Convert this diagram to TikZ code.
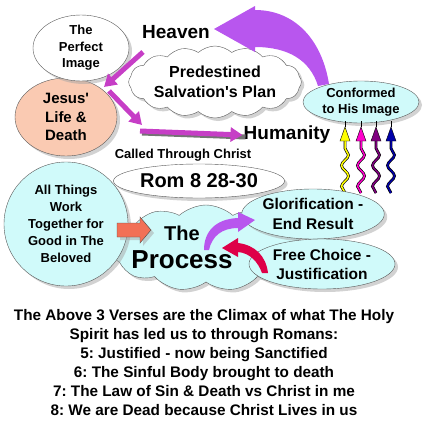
\documentclass[tikz,border=0pt]{standalone}
\usepackage{fontspec}
\setmainfont{Liberation Sans}
\usetikzlibrary{shapes.geometric,shapes.symbols,shadows,arrows.meta,decorations.pathmorphing}
\definecolor{peach}{RGB}{250,202,178}
\definecolor{paleCyan}{RGB}{208,250,250}
\definecolor{plumArrow}{RGB}{198,62,198}
\definecolor{heavenViolet}{RGB}{184,86,238}
\definecolor{choiceRed}{RGB}{222,0,72}
\definecolor{coralArrow}{RGB}{242,112,86}
\definecolor{waveYellow}{RGB}{255,255,0}
\definecolor{waveMagenta}{RGB}{255,0,204}
\definecolor{wavePurple}{RGB}{128,0,128}
\definecolor{waveBlue}{RGB}{0,0,170}
\newcommand{\txtsize}[2]{\fontsize{#1}{#2}\selectfont\bfseries}
\frenchspacing
\begin{document}
\begin{tikzpicture}
[x=1pt,y=-1pt,
  shadowDecorate/.style={drop shadow={shadow xshift=3pt,shadow yshift=-3pt,fill=black!35}},
  ovalDecorate/.style={shape=ellipse,draw=black!65,thin,inner sep=0pt,align=center,shadowDecorate},
  cloudDecorate/.style={shape=cloud,cloud ignores aspect,cloud puff arc=85,draw=black!65,thin,
    inner sep=0pt,align=center,shadowDecorate},
  labelDecorate/.style={inner sep=0pt,align=center},
  jesusArrow/.style={plumArrow,line width=5pt,-{Triangle[length=12pt,width=14pt]}},
  waveDecorate/.style={decorate,decoration={snake,segment length=21pt,amplitude=3.5pt}}]
\useasboundingbox (0,0) rectangle (434,434);
%% upper ovals and clouds
\node (jesus) at (66,117) [ovalDecorate,fill=peach,minimum width=102pt,minimum height=78pt,
  font=\txtsize{15}{18.5}] {Jesus\textquotesingle\\Life \&\\Death};
\node (perfect) at (81,48) [ovalDecorate,fill=white,minimum width=96pt,minimum height=66pt,
  font=\txtsize{13}{16.5}] {The\\Perfect\\Image};
\node (plan) at (215,82) [cloudDecorate,fill=white,cloud puffs=16,minimum width=168pt,
  minimum height=72pt,font=\txtsize{16}{20}] {Predestined\\Salvation\textquotesingle s Plan};
%% big arrow back to heaven
\fill[heavenViolet] (329,84) .. controls (322,40) and (295,10) .. (255,10) -- (255,6)
  -- (214,29) -- (255,52) -- (255,47) .. controls (288,47) and (310,60) .. (318,86) -- cycle;
\node (conformed) at (361,102) [ovalDecorate,fill=paleCyan,minimum width=116pt,minimum height=42pt,
  font=\txtsize{13}{16}] {Conformed\\to His Image};
\node (heaven) at (176,32) [labelDecorate,font=\txtsize{19}{22}] {Heaven};
\node (humanity) at (287,135) [labelDecorate,font=\txtsize{19}{22}] {Humanity};
%% arrows through Jesus to humanity
\coordinate (p1) at (143,52);
\coordinate (p2) at (104,87);
\coordinate (p3) at (109,91);
\coordinate (p4) at (142,125);
\coordinate (p5) at (140,131);
\draw[jesusArrow] (p1) -- (p2);
\draw[jesusArrow] (p3) -- (p4);
\draw[black!55,line width=5pt] ([shift={(2,2)}]p5) -- ([shift={(2,2)}]humanity.west);
\draw[jesusArrow] (p5) -- ([xshift=-1pt]humanity.west);
%% wavy arrows up to the image
\foreach \i/\x/\c in {1/345/waveYellow,2/361/waveMagenta,3/376/wavePurple,4/391/waveBlue}
{
  \coordinate (w\i) at (\x,193);
  \coordinate (t\i) at (\x,140);
  \draw[waveDecorate,black,line width=2.8pt] (w\i) -- (t\i);
  \draw[waveDecorate,\c,line width=1.5pt] (w\i) -- (t\i);
  \filldraw[fill=\c,draw=black,thin] (\x-5,141) -- (\x,127) -- (\x+5,141) -- cycle;
  \draw[thin] (\x,127) -- (\x,121);
}
\node (called) at (183,155) [labelDecorate,font=\txtsize{13}{16}] {Called Through Christ};
\node (rom) at (199,181) [ovalDecorate,fill=white,minimum width=171pt,minimum height=34pt,
  font=\txtsize{20}{24}] {Rom 8 28-30};
%% the process
\node (process) at (206,248) [cloudDecorate,fill=paleCyan,cloud puffs=11,minimum width=190pt,
  minimum height=86pt] {};
\node (theLbl) at (182,233) [labelDecorate,font=\txtsize{20}{24}] {The};
\node (processLbl) at (182,260) [labelDecorate,font=\txtsize{26}{30}] {Process};
\node (all) at (66,224) [ovalDecorate,shape=circle,fill=paleCyan,minimum size=124pt,
  font=\txtsize{13}{17}] {All Things\\Work\\Together for\\Good in The\\Beloved};
\draw[fill=coralArrow,draw=black!70,thin,shadowDecorate] (117,223) -- (140,223) -- (140,217)
  -- (151,230) -- (140,243) -- (140,237) -- (117,237) -- cycle;
\node (glory) at (313,214) [ovalDecorate,fill=paleCyan,minimum width=136pt,minimum height=50pt,
  font=\txtsize{15.5}{20}] {Glorification -\\End Result};
\node (choice) at (322,264) [ovalDecorate,fill=paleCyan,minimum width=146pt,minimum height=50pt,
  font=\txtsize{15.5}{19}] {Free Choice -\\Justification};
%% curved arrows inside the process
\fill[heavenViolet] (204,250) .. controls (204,232) and (215,219) .. (238,218) -- (238,212)
  -- (255,220) -- (238,232) -- (238,228) .. controls (222,228) and (212,236) .. (209,250) -- cycle;
\fill[choiceRed] (268,273) .. controls (266,256) and (255,245) .. (238,243) -- (238,238)
  -- (222,248) -- (238,257) -- (238,252) .. controls (250,253) and (258,262) .. (262,273) -- cycle;
%% closing verses
\node (verses) at (204,363) [labelDecorate,font=\txtsize{15.3}{19}]
  {The Above 3 Verses are the Climax of what The Holy\\Spirit has led us to through Romans:\\
   5: Justified - now being Sanctified\\6: The Sinful Body brought to death\\
   7: The Law of Sin \& Death vs Christ in me\\8: We are Dead because Christ Lives in us};
\end{tikzpicture}
\end{document}
